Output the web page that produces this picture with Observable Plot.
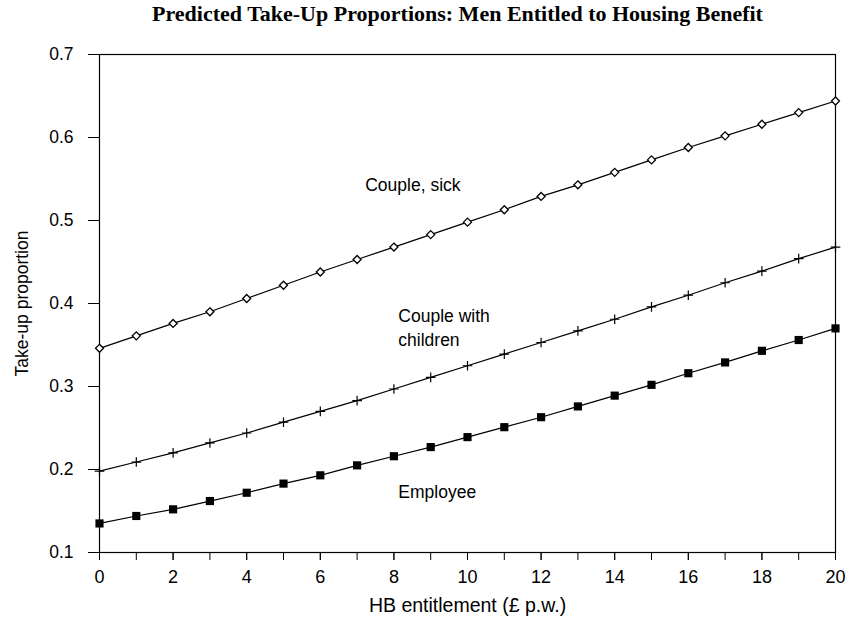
<!DOCTYPE html>
<html><head><meta charset="utf-8">
<script src="https://cdn.jsdelivr.net/npm/d3@7"></script>
<script src="https://cdn.jsdelivr.net/npm/@observablehq/plot@0.6"></script>
<style>
body{margin:0;background:#fff;width:853px;}
#title{height:30px;font-family:"Liberation Serif",serif;font-weight:bold;font-size:22px;text-align:center;padding-left:62px;line-height:28px;box-sizing:border-box;white-space:nowrap;}
</style></head>
<body>
<div id="title">Predicted Take-Up Proportions: Men Entitled to Housing Benefit</div>
<div id="chart"></div>
<script>
const entitlement = d3.range(0, 21);
const coupleSick = [0.346,0.361,0.376,0.390,0.406,0.422,0.438,0.453,0.468,0.483,0.498,0.513,0.529,0.543,0.558,0.573,0.588,0.602,0.616,0.630,0.644];
const coupleChildren = [0.198,0.209,0.220,0.232,0.244,0.257,0.270,0.283,0.297,0.311,0.325,0.339,0.353,0.367,0.381,0.396,0.410,0.425,0.439,0.454,0.468];
const employee = [0.135,0.144,0.152,0.162,0.172,0.183,0.193,0.205,0.216,0.227,0.239,0.251,0.263,0.276,0.289,0.302,0.316,0.329,0.343,0.356,0.370];
const seriesNames = ["Couple, sick","Couple with children","Employee"];
const seriesSymbols = ["diamond2","plus","square"];
const labelText = ["Couple, sick","Couple with\nchildren","Employee"];
const labelX = [7.22, 8.12, 8.12];
const labelY = [0.545, 0.372, 0.175];
const yTicks = [0.1,0.2,0.3,0.4,0.5,0.6,0.7];

const seriesValues = [coupleSick, coupleChildren, employee];
const data = seriesNames.flatMap((s, i) => entitlement.map((x, j) => ({series: s, x, y: seriesValues[i][j], sym: seriesSymbols[i]})));
const labels = labelText.map((t, i) => ({t, x: labelX[i], y: labelY[i]}));

const chart = Plot.plot({
  width: 853, height: 595,
  marginLeft: 99, marginRight: 18, marginTop: 24, marginBottom: 73,
  style: {fontFamily: "'Liberation Sans', Arial, sans-serif", fontSize: "17px", color: "#000"},
  x: {domain: [0, 20]},
  y: {domain: [0.1, 0.7]},
  marks: [
    Plot.frame({stroke: "#000", strokeWidth: 1.2}),
    Plot.axisX({ticks: entitlement, tickSize: 8, tickFormat: () => "", label: null}),
    Plot.axisX({ticks: d3.range(0, 21, 2), tickSize: 8, tickPadding: 10, fontSize: 18, label: null}),
    Plot.text(["HB entitlement (£ p.w.)"], {frameAnchor: "bottom", dy: 59, fontSize: 19.5, fill: "#000"}),
    Plot.axisY({ticks: yTicks, tickSize: 11, tickPadding: 15, fontSize: 17.5, tickFormat: d3.format(".1f"), label: "Take-up proportion", labelAnchor: "center", labelArrow: "none", labelOffset: 84}),
    Plot.line(data, {x: "x", y: "y", z: "series", stroke: "#000", strokeWidth: 1.2}),
    Plot.dot(data.filter(d => d.sym === "diamond2"), {x: "x", y: "y", symbol: "diamond2", r: 3.6, stroke: "#000", fill: "#fff", strokeWidth: 1.3}),
    Plot.dot(data.filter(d => d.sym === "plus"), {x: "x", y: "y", symbol: "plus", r: 3.2, stroke: "#000", strokeWidth: 1.2}),
    Plot.dot(data.filter(d => d.sym === "square"), {x: "x", y: "y", symbol: "square", r: 4.6, fill: "#000", stroke: "none"}),
    Plot.text(labels, {x: "x", y: "y", text: "t", textAnchor: "start", lineAnchor: "middle", lineHeight: 1.35, fontSize: 17.5, fill: "#000"})
  ]
});
document.getElementById("chart").appendChild(chart);
</script>
</body></html>
